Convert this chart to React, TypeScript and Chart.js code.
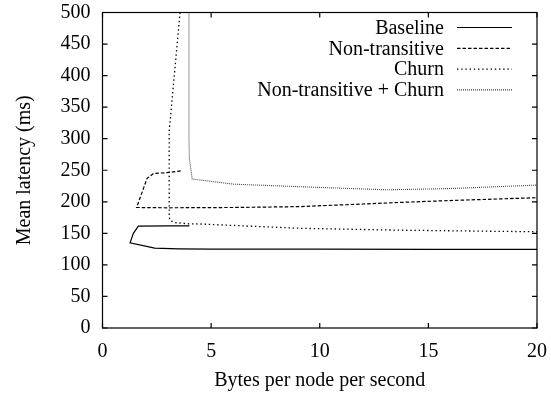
import React, { useEffect, useRef } from 'react';
import { Chart, registerables } from 'chart.js';

Chart.register(...registerables);

const seriesLabels = ['Baseline', 'Non-transitive', 'Churn', 'Non-transitive + Churn'];

const baselineX = [4.0, 3.0, 1.65, 1.42, 1.27, 2.4, 3.5, 5, 10, 15, 20];
const baselineY = [162, 162, 161.5, 150, 135, 126.5, 125.5, 125, 125, 124.7, 124.7];

const nonTransX = [3.6, 3.1, 2.35, 2.05, 1.57, 3, 6, 9, 12, 13.7, 16, 20];
const nonTransY = [249, 246.5, 245, 237, 191, 190.5, 191, 192.3, 196.5, 199, 202, 206.5];

const churnX = [3.57, 3.07, 3.07, 3.12, 3.35, 4.0, 4.5, 9.1, 13.7, 20];
const churnY = [500, 312, 175, 170, 167, 165, 164.8, 158, 155, 152.5];

const ntChurnX = [3.98, 3.98, 4.0, 4.13, 4.5, 6, 9, 13.1, 16, 20];
const ntChurnY = [500, 300, 268, 236, 234.5, 228, 224, 219, 221, 226.5];

const xTicks = [0, 5, 10, 15, 20];
const yTicks = [0, 50, 100, 150, 200, 250, 300, 350, 400, 450, 500];

const FONT = '"Liberation Serif", "Times New Roman", serif';

function pts(xs: number[], ys: number[]) {
  return xs.map((x, i) => ({ x, y: ys[i] }));
}

function zeroPad(s: any) {
  s.paddingTop = 0;
  s.paddingBottom = 0;
  s.paddingLeft = 0;
  s.paddingRight = 0;
}

export default function App() {
  const ref = useRef<HTMLCanvasElement | null>(null);

  useEffect(() => {
    const canvas = ref.current;
    if (!canvas) return;

    const styles = [
      { color: '#000', dash: [] as number[], width: 1.2 },
      { color: '#000', dash: [3.5, 2], width: 1.2 },
      { color: '#000', dash: [1.4, 2.8], width: 1.3 },
      { color: '#444', dash: [1, 1], width: 1.1 },
    ];
    const allData = [
      pts(baselineX, baselineY),
      pts(nonTransX, nonTransY),
      pts(churnX, churnY),
      pts(ntChurnX, ntChurnY),
    ];

    const frame = {
      id: 'frame',
      afterDatasetsDraw(chart: any) {
        const { ctx, chartArea: a, scales } = chart;
        const xs = scales.x;
        const ys = scales.y;
        ctx.save();
        ctx.strokeStyle = '#000';
        ctx.lineWidth = 1.2;
        ctx.setLineDash([]);
        ctx.strokeRect(a.left, a.top, a.right - a.left, a.bottom - a.top);
        const tl = 5;
        ctx.beginPath();
        xTicks.forEach((v) => {
          const px = xs.getPixelForValue(v);
          ctx.moveTo(px, a.bottom);
          ctx.lineTo(px, a.bottom - tl);
          ctx.moveTo(px, a.top);
          ctx.lineTo(px, a.top + tl);
        });
        yTicks.forEach((v) => {
          const py = ys.getPixelForValue(v);
          ctx.moveTo(a.left, py);
          ctx.lineTo(a.left + tl, py);
          ctx.moveTo(a.right, py);
          ctx.lineTo(a.right - tl, py);
        });
        ctx.stroke();

        // legend
        ctx.font = `20px ${FONT}`;
        ctx.fillStyle = '#000';
        ctx.textAlign = 'right';
        ctx.textBaseline = 'middle';
        chart.data.datasets.forEach((ds: any, i: number) => {
          const y = 27.5 + 20.8 * i;
          ctx.fillText(ds.label, 444, y + 1);
          ctx.beginPath();
          ctx.strokeStyle = ds.borderColor;
          ctx.lineWidth = ds.borderWidth;
          ctx.setLineDash(ds.borderDash || []);
          ctx.moveTo(457, y);
          ctx.lineTo(512, y);
          ctx.stroke();
        });
        ctx.restore();
      },
    };

    const chart = new Chart(canvas, {
      type: 'line',
      data: {
        datasets: allData.map((d, i) => ({
          label: seriesLabels[i],
          data: d,
          borderColor: styles[i].color,
          borderDash: styles[i].dash,
          borderWidth: styles[i].width,
          pointRadius: 0,
          tension: 0,
          fill: false,
        })),
      },
      options: {
        animation: false,
        responsive: false,
        layout: { padding: { left: 0, right: 14, top: 12.5, bottom: 0 } },
        plugins: { legend: { display: false }, tooltip: { enabled: false } },
        scales: {
          x: {
            type: 'linear',
            min: 0,
            max: 20,
            afterFit: (s: any) => { s.height = 65; zeroPad(s); },
            afterBuildTicks: (s: any) => { s.ticks = xTicks.map((v) => ({ value: v })); },
            grid: { display: false, drawTicks: false },
            border: { display: false },
            ticks: { color: '#000', font: { family: FONT, size: 20 }, padding: 12, maxRotation: 0 },
            title: { display: true, text: 'Bytes per node per second', color: '#000', font: { family: FONT, size: 20 }, padding: 0 },
          },
          y: {
            type: 'linear',
            min: 0,
            max: 500,
            afterFit: (s: any) => { s.width = 102.5; zeroPad(s); },
            afterBuildTicks: (s: any) => { s.ticks = yTicks.map((v) => ({ value: v })); },
            grid: { display: false, drawTicks: false },
            border: { display: false },
            ticks: { color: '#000', font: { family: FONT, size: 20 }, padding: 12 },
            title: { display: true, text: 'Mean latency (ms)', color: '#000', font: { family: FONT, size: 20 }, padding: 13 },
          },
        },
      },
      plugins: [frame],
    } as any);

    return () => chart.destroy();
  }, []);

  return (
    <canvas
      ref={ref}
      width={551}
      height={393}
      style={{ position: 'absolute', left: 0, top: 0, width: 551, height: 393 }}
    />
  );
}
